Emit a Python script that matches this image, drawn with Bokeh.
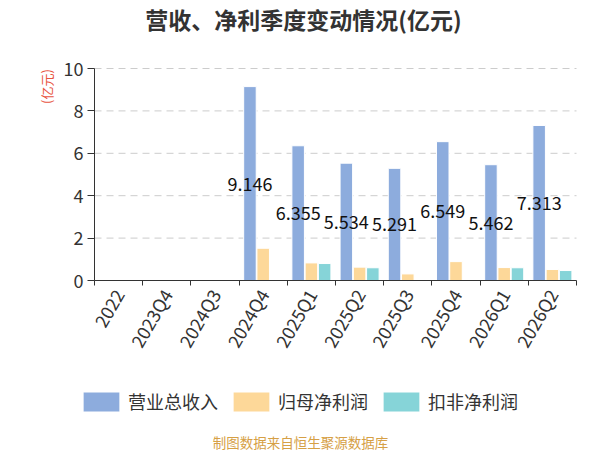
from math import pi

from bokeh.core.properties import value
from bokeh.embed import file_html
from bokeh.models import (ColumnDataSource, FixedTicker, Label, Legend, LegendItem,
                          LinearAxis, Range1d)
from bokeh.plotting import figure
from bokeh.resources import INLINE
from bokeh.transform import dodge

# data (亿元)
quarters = ["2022", "2023Q4", "2024Q3", "2024Q4", "2025Q1", "2025Q2",
            "2025Q3", "2025Q4", "2026Q1", "2026Q2"]
revenue = [None, None, None, 9.146, 6.355, 5.534, 5.291, 6.549, 5.462, 7.313]
net_profit = [None, None, None, 1.52, 0.83, 0.63, 0.31, 0.89, 0.61, 0.52]
deducted_profit = [None, None, None, None, 0.80, 0.60, None, None, 0.60, 0.47]
series_names = ["营业总收入", "归母净利润", "扣非净利润"]
colors = ["#8DACDD", "#FDD899", "#86D4D8"]
y_ticks = [0, 2, 4, 6, 8, 10]

FONT = "Noto Sans CJK SC"
W, H = 600, 450
# plot area (pixels) inside the canvas
PL, PR, PT, PB = 94, 576, 68, 280
YMAX = 10
n = len(quarters)


def xd(px):
    return (px - PL) / (PR - PL) * n


def yd(py):
    return (PB - py) / (PB - PT) * YMAX


def make_source(vals):
    d = dict(x=[], val=[], half=[], txt=[])
    for i, v in enumerate(vals):
        if v is None:
            continue
        d["x"].append(i + 0.5)
        d["val"].append(v)
        d["half"].append(v / 2)
        d["txt"].append("%.3f" % v)
    return ColumnDataSource(d)


p = figure(width=W, height=H, x_range=Range1d(xd(0), xd(W)), y_range=Range1d(yd(H), yd(0)),
           output_backend="svg", toolbar_location=None, x_axis_location=None,
           y_axis_location=None, min_border=0)
p.outline_line_color = None
p.xgrid.grid_line_color = None
p.ygrid.grid_line_color = None

# dashed grid lines between the axis and the right edge
grid_src = ColumnDataSource(dict(y=y_ticks[1:]))
p.segment(x0=0, x1=n, y0="y", y1="y", source=grid_src, line_color="#cccccc",
          line_width=1, line_dash="7 5")

# y axis
yax = LinearAxis(ticker=FixedTicker(ticks=y_ticks), fixed_location=0, bounds=(0, YMAX))
yax.axis_line_color = "#333333"
yax.major_tick_line_color = "#333333"
yax.major_tick_in = 0
yax.major_tick_out = 7
yax.minor_tick_line_color = None
yax.major_label_standoff = 4
yax.major_label_text_font = FONT
yax.major_label_text_font_size = "18px"
yax.major_label_text_color = "#333333"
p.add_layout(yax, "left")

# x axis: tick marks on category boundaries
tick_ax = LinearAxis(ticker=FixedTicker(ticks=list(range(n + 1))), fixed_location=0,
                     bounds=(0, n))
tick_ax.axis_line_color = "#333333"
tick_ax.major_tick_line_color = "#333333"
tick_ax.major_tick_in = 0
tick_ax.major_tick_out = 5
tick_ax.minor_tick_line_color = None
tick_ax.major_label_text_color = None
p.add_layout(tick_ax, "below")

# x axis labels at category centres
centres = [i + 0.5 for i in range(n)]
cat_ax = LinearAxis(ticker=FixedTicker(ticks=centres), fixed_location=0, bounds=(0, n),
                    major_label_overrides={c: q for c, q in zip(centres, quarters)})
cat_ax.axis_line_color = None
cat_ax.major_tick_line_color = None
cat_ax.minor_tick_line_color = None
cat_ax.major_tick_in = 0
cat_ax.major_tick_out = 0
cat_ax.major_label_standoff = 10
cat_ax.major_label_orientation = pi / 3
cat_ax.major_label_text_font = FONT
cat_ax.major_label_text_font_size = "18px"
cat_ax.major_label_text_color = "#333333"
p.add_layout(cat_ax, "below")

offsets = [-0.275, 0.0, 0.275]
renderers = []
for vals, off, col in zip([revenue, net_profit, deducted_profit], offsets, colors):
    src = make_source(vals)
    r = p.vbar(x=dodge("x", off), top="val", width=0.26, source=src,
               fill_color=col, line_color="white", line_width=1)
    renderers.append(r)

rev_src = make_source(revenue)
p.text(x=dodge("x", offsets[0]), y="half", text="txt", source=rev_src,
       text_align="center", text_baseline="middle", text_font=value(FONT),
       text_font_size="18px", text_color="#111111")

# legend icons are drawn at 80% of the glyph box
legend = Legend(items=[LegendItem(label=s, renderers=[r]) for s, r in zip(series_names, renderers)],
                location=(78, H - 389 - 25), orientation="horizontal")
legend.glyph_width = 46
legend.glyph_height = 25
legend.label_standoff = 4
legend.spacing = 10
legend.padding = 0
legend.margin = 0
legend.border_line_color = None
legend.background_fill_alpha = 0
legend.label_text_font = FONT
legend.label_text_font_size = "18px"
legend.label_text_color = "#333333"
p.add_layout(legend, "center")

p.add_layout(Label(x=xd(303), y=yd(18), text="营收、净利季度变动情况(亿元)",
                   text_font=FONT, text_font_size="23px", text_font_style="bold",
                   text_color="#333333", text_align="center", text_baseline="middle"))
p.add_layout(Label(x=xd(46), y=yd(86), text="(亿元)", angle=pi / 2,
                   text_font=FONT, text_font_size="13px", text_color="#E8553F",
                   text_align="center", text_baseline="middle"))
p.add_layout(Label(x=xd(300), y=yd(441), text="制图数据来自恒生聚源数据库",
                   text_font=FONT, text_font_size="13.5px", text_color="#D6A045",
                   text_align="center", text_baseline="middle"))

open("out.html", "w").write(file_html(p, INLINE))
